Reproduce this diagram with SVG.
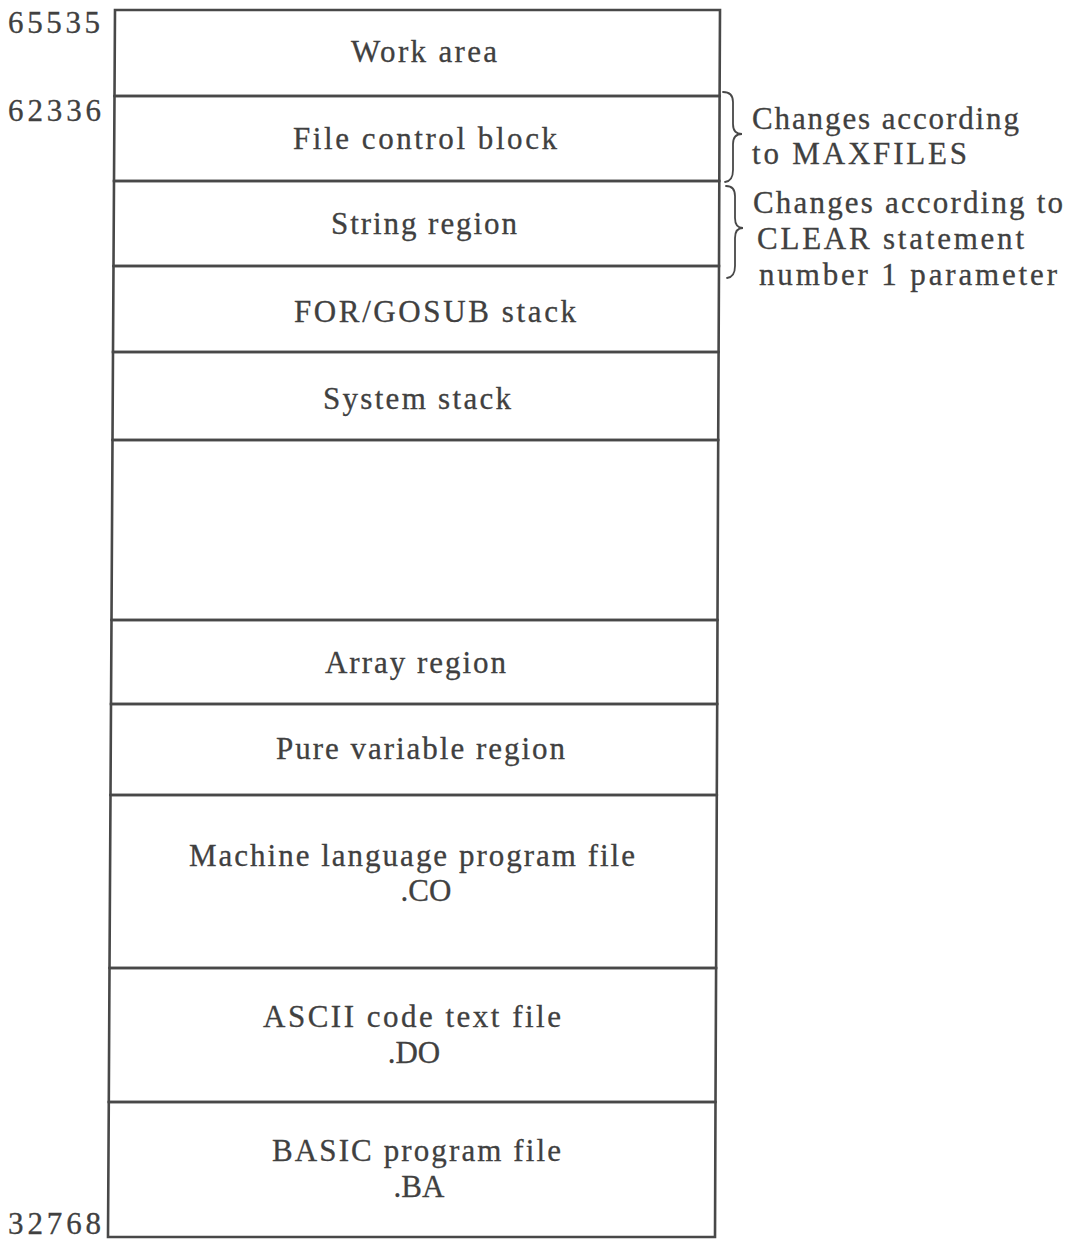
<svg xmlns="http://www.w3.org/2000/svg" width="1073" height="1241" viewBox="0 0 1073 1241">
<style>
  .cell { fill: none; stroke: #484848; stroke-width: 2.6; stroke-linejoin: miter; }
  .t { font-family: "Liberation Serif", "Times New Roman", serif; font-size: 31px; fill: #404040; stroke: #404040; stroke-width: 0.3; }
  .c { text-anchor: middle; }
  .addr { font-family: "Liberation Serif", "Times New Roman", serif; font-size: 31px; fill: #404040; stroke: #404040; stroke-width: 0.3; }
  .brace { fill: none; stroke: #484848; stroke-width: 1.8; stroke-linecap: round; }
</style>
<rect x="0" y="0" width="1073" height="1241" fill="#ffffff"/>

<g id="addresses">
  <text class="addr" x="8" y="33" textLength="92" lengthAdjust="spacing">65535</text>
  <text class="addr" x="8" y="121" textLength="93" lengthAdjust="spacing">62336</text>
  <text class="addr" x="8" y="1234" textLength="93" lengthAdjust="spacing">32768</text>
</g>

<g id="work-area">
  <polygon class="cell" points="115,10 720,10 719.6,96 114.5,96"/>
  <text class="t" x="351" y="62" textLength="146" lengthAdjust="spacing">Work area</text>
</g>
<g id="file-control-block">
  <polygon class="cell" points="114.5,96 719.6,96 719.3,181 114,181"/>
  <text class="t" x="293" y="149" textLength="264" lengthAdjust="spacing">File control block</text>
</g>
<g id="string-region">
  <polygon class="cell" points="114,181 719.3,181 719,266 113.5,266"/>
  <text class="t" x="331" y="234" textLength="186" lengthAdjust="spacing">String region</text>
</g>
<g id="for-gosub-stack">
  <polygon class="cell" points="113.5,266 719,266 718.6,352 113,352"/>
  <text class="t" x="294" y="322" textLength="282" lengthAdjust="spacing">FOR/GOSUB stack</text>
</g>
<g id="system-stack">
  <polygon class="cell" points="113,352 718.6,352 718.2,440 112.5,440"/>
  <text class="t" x="323" y="409" textLength="188" lengthAdjust="spacing">System stack</text>
</g>
<g id="free-area">
  <polygon class="cell" points="112.5,440 718.2,440 717.5,620 111.5,620"/>
</g>
<g id="array-region">
  <polygon class="cell" points="111.5,620 717.5,620 717.2,704 111,704"/>
  <text class="t" x="325" y="673" textLength="181" lengthAdjust="spacing">Array region</text>
</g>
<g id="pure-variable-region">
  <polygon class="cell" points="111,704 717.2,704 716.8,795 110.5,795"/>
  <text class="t" x="276" y="759" textLength="289" lengthAdjust="spacing">Pure variable region</text>
</g>
<g id="machine-language-file">
  <polygon class="cell" points="110.5,795 716.8,795 716.1,968 109.5,968"/>
  <text class="t" x="189" y="866" textLength="446" lengthAdjust="spacing">Machine language program file</text>
  <text class="t c" x="426" y="901">.CO</text>
</g>
<g id="ascii-text-file">
  <polygon class="cell" points="109.5,968 716.1,968 715.5,1102 108.8,1102"/>
  <text class="t" x="263" y="1027" textLength="298" lengthAdjust="spacing">ASCII code text file</text>
  <text class="t c" x="414" y="1063">.DO</text>
</g>
<g id="basic-program-file">
  <polygon class="cell" points="108.8,1102 715.5,1102 715,1237 108,1237"/>
  <text class="t" x="272" y="1161" textLength="289" lengthAdjust="spacing">BASIC program file</text>
  <text class="t c" x="419" y="1197">.BA</text>
</g>

<g id="connectors">
  <path class="brace" d="M723,92 Q733,92 733,102 L733,124 Q733,134 742,134 Q733,134 733,144 L733,170 Q733,181 725,182"/>
  <path class="brace" d="M726,186 Q735,186 735,196 L735,218 Q735,228 743,228 Q735,228 735,238 L735,266 Q735,277 727,278"/>
</g>

<g id="note-maxfiles">
  <text class="t" x="752" y="129" textLength="267" lengthAdjust="spacing">Changes according</text>
  <text class="t" x="752" y="164" textLength="215" lengthAdjust="spacing">to MAXFILES</text>
</g>
<g id="note-clear">
  <text class="t" x="753" y="213" textLength="310" lengthAdjust="spacing">Changes according to</text>
  <text class="t" x="757" y="249" textLength="267" lengthAdjust="spacing">CLEAR statement</text>
  <text class="t" x="759" y="285" textLength="298" lengthAdjust="spacing">number 1 parameter</text>
</g>
</svg>
